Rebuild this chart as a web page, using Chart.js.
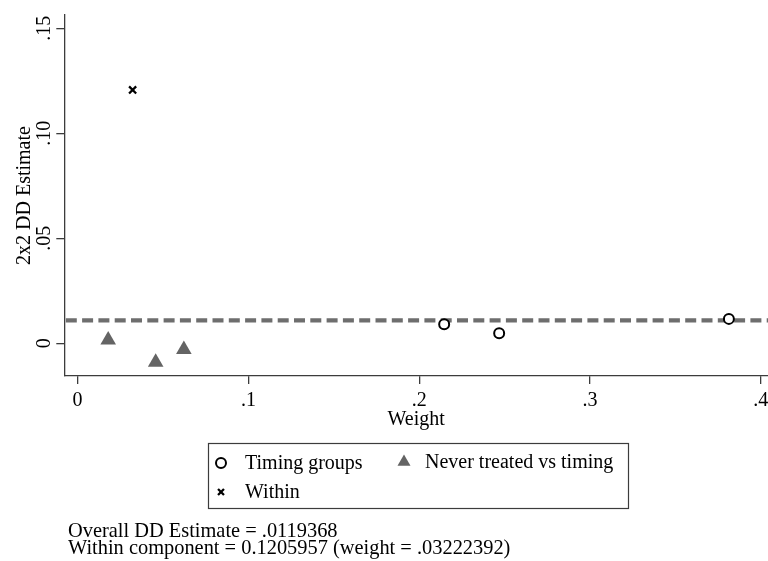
<!DOCTYPE html>
<html>
<head>
<meta charset="utf-8">
<script src="https://cdn.jsdelivr.net/npm/chart.js@4/dist/chart.umd.min.js"></script>
<style>
  html, body { margin: 0; padding: 0; background: #ffffff; }
  #wrap { width: 768px; height: 561px; position: relative; }
</style>
</head>
<body>
<div id="wrap"><canvas id="c" width="768" height="561"></canvas></div>
<script>
// ---- data ----
const xTickValues = [0, 0.1, 0.2, 0.3, 0.4];
const xTickLabels = ['0', '.1', '.2', '.3', '.4'];
const yTickValues = [0, 0.05, 0.10, 0.15];
const yTickLabels = ['0', '.05', '.10', '.15'];

const timingWeight = [0.2146, 0.2468, 0.3813];
const timingEstimate = [0.0090, 0.0048, 0.0116];

const neverWeight = [0.0179, 0.0457, 0.0622];
const neverEstimate = [0.0015, -0.0090, -0.0030];

const withinWeight = [0.0322];
const withinEstimate = [0.1206];

const overallLineLevel = 0.0109;
const xRange = [-0.0078, 0.4042];
const yRange = [-0.0156, 0.1563];

const seriesLabels = ['Timing groups', 'Never treated vs timing', 'Within'];
const xTitle = 'Weight';
const yTitle = '2x2 DD Estimate';
const noteLines = [
  'Overall DD Estimate = .0119368',
  'Within component = 0.1205957 (weight = .03222392)'
];

// ---- chart ----
const FONT = '"Liberation Serif", "Times New Roman", Times, serif';
const toPoints = (xs, ys) => xs.map((x, i) => ({ x: x, y: ys[i] }));
const AXIS_COLOR = '#3c3c3c';

Chart.defaults.font.family = FONT;
Chart.defaults.font.size = 20;
Chart.defaults.color = '#000000';

const legendPlugin = {
  id: 'stataLegend',
  afterDraw(chart) {
    const ctx = chart.ctx;
    const ds = chart.data.datasets;
    ctx.save();
    // legend box
    ctx.strokeStyle = AXIS_COLOR;
    ctx.lineWidth = 1.2;
    ctx.strokeRect(208.5, 443.5, 420, 65);
    ctx.font = '20px ' + FONT;
    ctx.textBaseline = 'middle';
    ctx.textAlign = 'left';
    const items = [
      { i: 0, mx: 221, tx: 245, y: 463, r: 5 },
      { i: 1, mx: 404, tx: 425, y: 462, r: 7.5 },
      { i: 2, mx: 221, tx: 245, y: 492, r: 4.2 }
    ];
    items.forEach(it => {
      const d = ds[it.i];
      ctx.fillStyle = d.backgroundColor;
      ctx.strokeStyle = d.borderColor;
      ctx.lineWidth = d.borderWidth;
      Chart.helpers.drawPoint(ctx, {
        pointStyle: d.pointStyle, rotation: 0, radius: it.r, borderWidth: d.borderWidth
      }, it.mx, it.y);
      ctx.fillStyle = '#000000';
      ctx.fillText(d.label, it.tx, it.y + 1);
    });
    // notes
    ctx.textBaseline = 'alphabetic';
    ctx.fillStyle = '#000000';
    ctx.font = '20.4px ' + FONT;
    ctx.fillText(noteLines[0], 68, 537);
    ctx.fillText(noteLines[1], 68, 554);
    ctx.restore();
  }
};

new Chart(document.getElementById('c'), {
  type: 'scatter',
  data: {
    datasets: [
      {
        label: seriesLabels[0],
        data: toPoints(timingWeight, timingEstimate),
        pointStyle: 'circle',
        pointRadius: 5,
        borderWidth: 2,
        borderColor: '#000000',
        backgroundColor: '#ffffff',
        order: 0
      },
      {
        label: seriesLabels[1],
        data: toPoints(neverWeight, neverEstimate),
        pointStyle: 'triangle',
        pointRadius: 9,
        borderWidth: 0,
        borderColor: '#646464',
        backgroundColor: '#646464',
        order: 1
      },
      {
        label: seriesLabels[2],
        data: toPoints(withinWeight, withinEstimate),
        pointStyle: 'crossRot',
        pointRadius: 5,
        borderWidth: 2.3,
        borderColor: '#000000',
        backgroundColor: '#000000',
        order: 2
      },
      {
        type: 'line',
        label: 'overall',
        data: [{ x: xRange[0], y: overallLineLevel }, { x: xRange[1], y: overallLineLevel }],
        borderColor: '#6e6e6e',
        borderWidth: 4.3,
        borderDash: [11, 5.3],
        borderDashOffset: -1.5,
        pointRadius: 0,
        fill: false,
        order: 10
      }
    ]
  },
  options: {
    responsive: false,
    animation: false,
    devicePixelRatio: 1,
    layout: { autoPadding: false, padding: { top: 15, right: 0, bottom: 129, left: 0 } },
    plugins: {
      legend: { display: false },
      tooltip: { enabled: false }
    },
    scales: {
      x: {
        type: 'linear',
        min: xRange[0],
        max: xRange[1],
        afterBuildTicks: s => { s.ticks = xTickValues.map(v => ({ value: v })); },
        afterFit: s => { s.height = 56; s.paddingLeft = 0; s.paddingRight = 0; },
        ticks: {
          autoSkip: false,
          maxRotation: 0,
          minRotation: 0,
          padding: 5,
          color: '#000000',
          font: { size: 20, family: FONT },
          callback: v => xTickLabels[xTickValues.indexOf(v)]
        },
        grid: {
          display: true,
          drawOnChartArea: false,
          drawTicks: true,
          tickLength: 8,
          color: AXIS_COLOR,
          lineWidth: 1.3
        },
        border: { display: true, color: AXIS_COLOR, width: 1.3 },
        title: {
          display: true,
          text: xTitle,
          color: '#000000',
          font: { size: 20, family: FONT },
          padding: { top: 0, bottom: 0 }
        }
      },
      y: {
        type: 'linear',
        min: yRange[0],
        max: yRange[1],
        afterBuildTicks: s => { s.ticks = yTickValues.map(v => ({ value: v })); },
        afterFit: s => { s.width = 64.3; s.paddingTop = 0; s.paddingBottom = 0; },
        ticks: {
          autoSkip: false,
          minRotation: 90,
          maxRotation: 90,
          crossAlign: 'center',
          padding: -1,
          color: '#000000',
          font: { size: 20, family: FONT },
          callback: v => yTickLabels[yTickValues.indexOf(v)]
        },
        grid: {
          display: true,
          drawOnChartArea: false,
          drawTicks: true,
          tickLength: 8,
          color: AXIS_COLOR,
          lineWidth: 1.3
        },
        border: { display: true, color: AXIS_COLOR, width: 1.3 },
        title: {
          display: true,
          text: yTitle,
          color: '#000000',
          font: { size: 20, family: FONT },
          padding: { top: 13, bottom: 0 }
        }
      }
    }
  },
  plugins: [legendPlugin]
});
</script>
</body>
</html>
